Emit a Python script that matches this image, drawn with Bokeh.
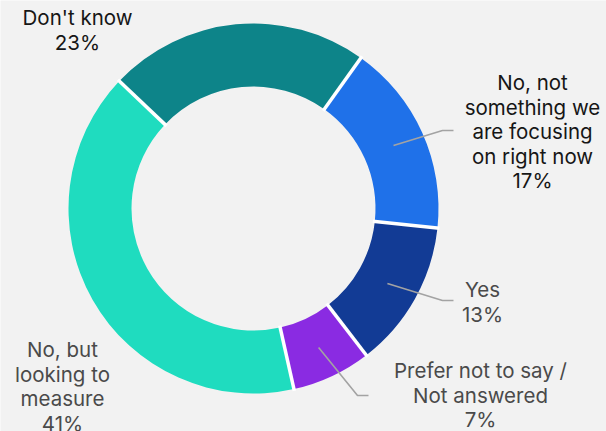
import math
from bokeh.plotting import figure
from bokeh.models import Range1d
from bokeh.core.properties import value
from bokeh.embed import file_html
from bokeh.resources import INLINE

# ---- data ----
categories = ["No, not\nsomething we\nare focusing\non right now", "Yes",
              "Prefer not to say /\nNot answered", "No, but\nlooking to\nmeasure", "Don't know"]
values = [17, 13, 7, 41, 23]
colors = ["#1f71e9", "#123b95", "#8a2be2", "#1fdcbf", "#0d8489"]

# ---- layout ----
W, H = 606, 431
CX, CY = 253, 208          # centre in screen px (y down)
R_OUT, R_IN = 185, 122
START_DEG = 54.5           # first slice starts here (math convention), goes clockwise
LINE_H = 24.5
FONT = "Inter"
# label anchors: (x centre, y of first line centre, text colour, elbow points or None)
label_layout = [
    (532, 82, "#161616", [(442, 130), (453, 130)]),
    (482, 289, "#4a4a4a", [(442, 300), (453, 300)]),
    (480, 370, "#4a4a4a", [(357, 395), (368, 395)]),
    (62, 349, "#4a4a4a", None),
    (77, 17, "#161616", None),
]


def Y(y):
    return H - y


p = figure(width=W, height=H, output_backend="svg", toolbar_location=None,
           x_range=Range1d(0, W), y_range=Range1d(0, H),
           background_fill_color="#f2f2f2", border_fill_color="#f2f2f2",
           min_border=0, outline_line_color=None)
p.axis.visible = False
p.grid.visible = False

total = sum(values)
angles = []
a = math.radians(START_DEG)
for v in values:
    span = 2 * math.pi * v / total
    angles.append((a - span, a))
    a -= span

starts = [s for s, e in angles]
ends = [e for s, e in angles]
p.annular_wedge(x=[CX] * len(values), y=[Y(CY)] * len(values),
                inner_radius=R_IN, outer_radius=R_OUT,
                start_angle=starts, end_angle=ends,
                fill_color=colors, line_color=None)

# white separators
sx0, sy0, sx1, sy1 = [], [], [], []
for s, e in angles:
    sx0.append(CX + (R_IN - 2) * math.cos(e))
    sy0.append(Y(CY) + (R_IN - 2) * math.sin(e))
    sx1.append(CX + (R_OUT + 2) * math.cos(e))
    sy1.append(Y(CY) + (R_OUT + 2) * math.sin(e))
p.segment(x0=sx0, y0=sy0, x1=sx1, y1=sy1, line_color="white", line_width=3.5)

# labels
R_MID = (R_IN + R_OUT) / 2
for (s, e), cat, v, (lx, ly, col, elbow) in zip(angles, categories, values, label_layout):
    lines = cat.split("\n") + [f"{v}%"]
    xs = [lx] * len(lines)
    ys = [Y(ly + i * LINE_H) for i in range(len(lines))]
    p.text(x=xs, y=ys, text=lines, text_font=value(FONT), text_font_size="20.5px",
           text_color=col, text_align="center", text_baseline="middle")
    if elbow:
        mid = (s + e) / 2
        px = [CX + R_MID * math.cos(mid)] + [ex for ex, ey in elbow]
        py = [Y(CY) + R_MID * math.sin(mid)] + [Y(ey) for ex, ey in elbow]
        p.line(px, py, line_color="#a3a3a3", line_width=1.6)

open("out.html", "w").write(file_html(p, INLINE))
